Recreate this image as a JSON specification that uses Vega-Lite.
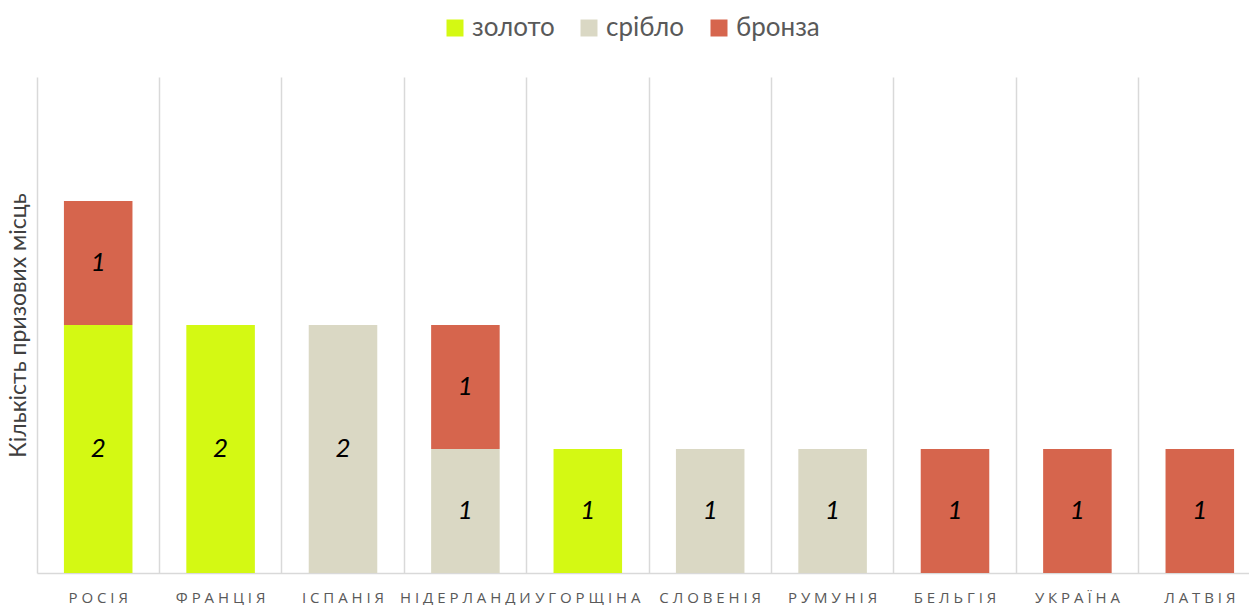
{
  "$schema": "https://vega.github.io/schema/vega-lite/v6.json",
  "width": 1212,
  "height": 496,
  "autosize": {"type": "none"},
  "padding": {"left": 37, "top": 77, "right": 0, "bottom": 32},
  "background": "white",
  "config": {"view": {"stroke": null}, "font": "Lato"},
  "data": {
    "values": [
      {"country": "РОСІЯ", "medal": "золото", "rank": 1, "count": 2},
      {"country": "РОСІЯ", "medal": "бронза", "rank": 3, "count": 1},
      {"country": "ФРАНЦІЯ", "medal": "золото", "rank": 1, "count": 2},
      {"country": "ІСПАНІЯ", "medal": "срібло", "rank": 2, "count": 2},
      {"country": "НІДЕРЛАНДИ", "medal": "срібло", "rank": 2, "count": 1},
      {"country": "НІДЕРЛАНДИ", "medal": "бронза", "rank": 3, "count": 1},
      {"country": "УГОРЩІНА", "medal": "золото", "rank": 1, "count": 1},
      {"country": "СЛОВЕНІЯ", "medal": "срібло", "rank": 2, "count": 1},
      {"country": "РУМУНІЯ", "medal": "срібло", "rank": 2, "count": 1},
      {"country": "БЕЛЬГІЯ", "medal": "бронза", "rank": 3, "count": 1},
      {"country": "УКРАЇНА", "medal": "бронза", "rank": 3, "count": 1},
      {"country": "ЛАТВІЯ", "medal": "бронза", "rank": 3, "count": 1}
    ]
  },
  "layer": [
    {
      "mark": {"type": "bar", "width": {"band": 0.56}},
      "encoding": {
        "x": {
          "field": "country", "type": "nominal", "sort": null,
          "scale": {"range": [0, 1224], "paddingInner": 0, "paddingOuter": 0},
          "axis": {
            "orient": "bottom", "title": null, "labels": false, "ticks": false, "grid": true,
            "bandPosition": 0, "gridColor": "#d9d9d9", "gridWidth": 1.5,
            "domain": true, "domainColor": "#d9d9d9", "domainWidth": 1.5
          }
        },
        "y": {
          "field": "count", "type": "quantitative", "stack": "zero",
          "scale": {"domain": [0, 4], "nice": false},
          "axis": {
            "title": "Кількість призових місць", "labels": false, "ticks": false,
            "domain": false, "grid": false, "titleFontSize": 23, "titleFont": "Lato",
            "titleFontWeight": "normal", "titleColor": "#404040", "titlePadding": 7
          }
        },
        "color": {
          "field": "medal", "type": "nominal",
          "scale": {"domain": ["золото", "срібло", "бронза"], "range": ["#d4f913", "#dad8c4", "#d6654d"]},
          "legend": {
            "title": null, "orient": "none", "legendX": 405, "legendY": -62, "direction": "horizontal", "symbolType": "square",
            "symbolSize": 289, "symbolStrokeWidth": 0, "labelFontSize": 26, "labelColor": "#595959",
            "labelFont": "Lato", "labelOffset": 4, "columnPadding": 21
          }
        },
        "order": {"field": "rank", "type": "quantitative", "sort": "ascending"}
      }
    },
    {
      "transform": [
        {"stack": "count", "groupby": ["country"], "sort": [{"field": "rank", "order": "ascending"}], "as": ["y0", "y1"]},
        {"fold": ["y0", "y1"], "as": ["edge", "pos"]}
      ],
      "mark": {"type": "text", "fontStyle": "italic", "fontSize": 26, "color": "black", "align": "center", "baseline": "middle"},
      "encoding": {
        "x": {
          "field": "country", "type": "nominal", "sort": null,
          "axis": {
            "orient": "bottom", "title": null, "ticks": false, "grid": false, "domain": false,
            "labelAngle": 0, "labelFontSize": 15, "labelColor": "#595959", "labelFont": "Open Sans",
            "labelPadding": 17, "labelOverlap": false, "labelExpr": "join(split(datum.label, ''), ' ')"
          }
        },
        "y": {
          "aggregate": "mean", "field": "pos", "type": "quantitative",
          "axis": {
            "title": "Кількість призових місць", "labels": false, "ticks": false,
            "domain": false, "grid": false, "titleFontSize": 23, "titleFont": "Lato",
            "titleFontWeight": "normal", "titleColor": "#404040", "titlePadding": 7
          }
        },
        "detail": {"field": "medal", "type": "nominal"},
        "text": {"aggregate": "max", "field": "count", "type": "quantitative"}
      }
    }
  ],
  "resolve": {"axis": {"x": "independent"}}
}
